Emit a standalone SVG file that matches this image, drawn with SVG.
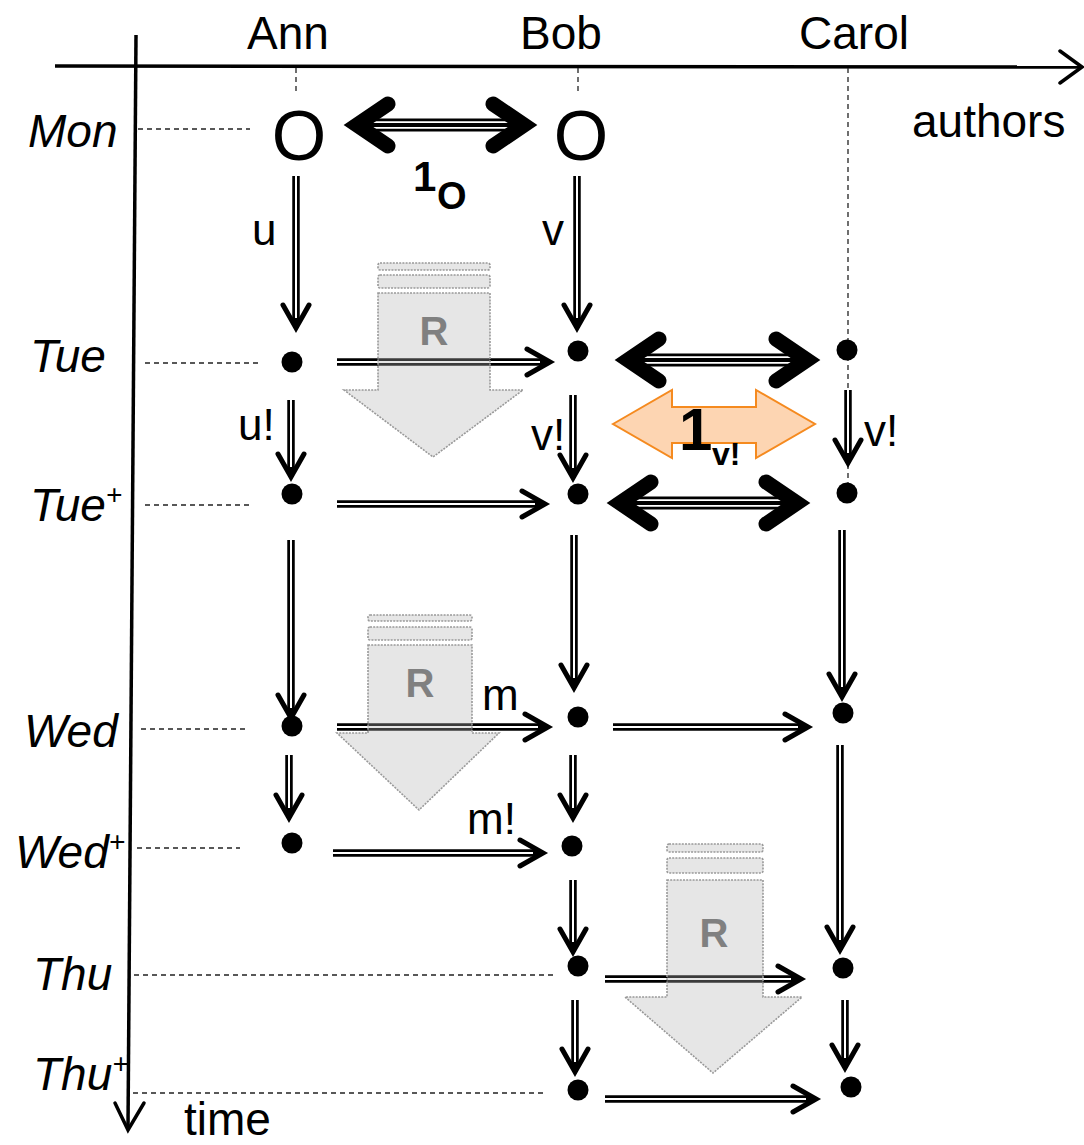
<svg xmlns="http://www.w3.org/2000/svg" width="1084" height="1145" viewBox="0 0 1084 1145">
<style>
text{font-family:"Liberation Sans",Arial,sans-serif;fill:#000}
.ax{stroke:#000;stroke-width:3.5;fill:none}
.axh{stroke:#000;stroke-width:3.5;fill:none;stroke-linecap:round}
.lbl{font-size:46px}
.day{font-size:46px;font-style:italic}
.sm{font-size:44px}
.dash{stroke:#222;stroke-width:1.3;stroke-dasharray:5 4;fill:none}
.dot{fill:#000}
.sh{stroke:#000;stroke-width:7.5;fill:none}
.shw{stroke:#fff;stroke-width:2;fill:none}
.hd{stroke:#000;stroke-width:5;fill:none;stroke-linecap:round;stroke-linejoin:miter}
.bsh{stroke:#000;stroke-width:13;fill:none}
.bshw{stroke:#fff;stroke-width:1.8;fill:none}
.bhd{stroke:#000;stroke-width:15;fill:none;stroke-linecap:round;stroke-linejoin:miter;stroke-miterlimit:10}
.rarr{fill:#b4b4b4;fill-opacity:0.33;stroke:#999;stroke-width:1.6;stroke-dasharray:2 1.2}
.rt{font-size:40px;font-weight:bold;fill:#808080}
</style>

<g id="axes">
<path class="ax" d="M55,66 L1080,67"/>
<path class="axh" d="M1060,51 L1082,67 L1060,83"/>
<path class="ax" d="M136,35 L128,1128"/>
<path class="axh" d="M115,1103 L128,1130 L144,1103"/>
<text class="lbl" x="288" y="49" text-anchor="middle">Ann</text>
<text class="lbl" x="561" y="49" text-anchor="middle">Bob</text>
<text class="lbl" x="854" y="49" text-anchor="middle">Carol</text>
<text class="lbl" x="912" y="137">authors</text>
<text class="lbl" x="184" y="1135">time</text>
</g>

<g id="days">
<text class="day" x="28" y="147">Mon</text>
<text class="day" x="30" y="372">Tue</text>
<text class="day" x="30" y="521">Tue<tspan font-size="28" dy="-17">+</tspan></text>
<text class="day" x="24" y="747">Wed</text>
<text class="day" x="15" y="868">Wed<tspan font-size="28" dy="-17">+</tspan></text>
<text class="day" x="33" y="990">Thu</text>
<text class="day" x="33" y="1090">Thu<tspan font-size="28" dy="-17">+</tspan></text>
</g>

<g id="guides">
<path class="dash" d="M138,129 H250"/>
<path class="dash" d="M145,363 H262"/>
<path class="dash" d="M145,505 H250"/>
<path class="dash" d="M141,729 H247"/>
<path class="dash" d="M137,848 H240"/>
<path class="dash" d="M134,975 H555"/>
<path class="dash" d="M133,1093 H545"/>
<path class="dash" d="M296,68 V92"/>
<path class="dash" d="M578,68 V92"/>
<path class="dash" d="M848,68 V485"/>
</g>

<g id="nodes">
<g id="ann-mon"><text x="299" y="160" font-size="70" text-anchor="middle">O</text></g>
<g id="bob-mon"><text x="581" y="160" font-size="70" text-anchor="middle">O</text></g>
<g id="ann-tue"><circle class="dot" cx="292" cy="362" r="10.5"/></g>
<g id="ann-tueplus"><circle class="dot" cx="292" cy="494" r="10.5"/></g>
<g id="ann-wed"><circle class="dot" cx="292" cy="726" r="10.5"/></g>
<g id="ann-wedplus"><circle class="dot" cx="292" cy="843" r="10.5"/></g>
<g id="bob-tue"><circle class="dot" cx="578" cy="351" r="10.5"/></g>
<g id="bob-tueplus"><circle class="dot" cx="578" cy="494" r="10.5"/></g>
<g id="bob-wed"><circle class="dot" cx="578" cy="717" r="10.5"/></g>
<g id="bob-wedplus"><circle class="dot" cx="572" cy="846" r="10.5"/></g>
<g id="bob-thu"><circle class="dot" cx="578" cy="966" r="10.5"/></g>
<g id="bob-thuplus"><circle class="dot" cx="578" cy="1090" r="10.5"/></g>
<g id="carol-tue"><circle class="dot" cx="847" cy="350" r="10.5"/></g>
<g id="carol-tueplus"><circle class="dot" cx="847" cy="493" r="10.5"/></g>
<g id="carol-wed"><circle class="dot" cx="843" cy="713" r="10.5"/></g>
<g id="carol-thu"><circle class="dot" cx="843" cy="968" r="10.5"/></g>
<g id="carol-thuplus"><circle class="dot" cx="851" cy="1087" r="10.5"/></g>
</g>

<g id="connectors">
<g><path class="sh" d="M296,176 V325"/><path class="shw" d="M296,176 V318"/><path class="hd" d="M283,305 L296,328 L309,305"/></g>
<g><path class="sh" d="M577,176 V325"/><path class="shw" d="M577,176 V318"/><path class="hd" d="M564,305 L577,328 L590,305"/></g>
<g><path class="sh" d="M291,400 V474"/><path class="shw" d="M291,400 V467"/><path class="hd" d="M278,454 L291,477 L304,454"/></g>
<g><path class="sh" d="M573,395 V475"/><path class="shw" d="M573,395 V468"/><path class="hd" d="M560,455 L573,478 L586,455"/></g>
<g><path class="sh" d="M848,390 V460"/><path class="shw" d="M848,390 V453"/><path class="hd" d="M835,440 L848,463 L861,440"/></g>
<g><path class="sh" d="M291,540 V715"/><path class="shw" d="M291,540 V708"/><path class="hd" d="M278,695 L291,718 L304,695"/></g>
<g><path class="sh" d="M574,535 V685"/><path class="shw" d="M574,535 V678"/><path class="hd" d="M561,665 L574,688 L587,665"/></g>
<g><path class="sh" d="M842,530 V694"/><path class="shw" d="M842,530 V687"/><path class="hd" d="M829,674 L842,697 L855,674"/></g>
<g><path class="sh" d="M289,755 V815"/><path class="shw" d="M289,755 V808"/><path class="hd" d="M276,795 L289,818 L302,795"/></g>
<g><path class="sh" d="M573,755 V815"/><path class="shw" d="M573,755 V808"/><path class="hd" d="M560,795 L573,818 L586,795"/></g>
<g><path class="sh" d="M573,880 V949"/><path class="shw" d="M573,880 V942"/><path class="hd" d="M560,929 L573,952 L586,929"/></g>
<g><path class="sh" d="M840,745 V947"/><path class="shw" d="M840,745 V940"/><path class="hd" d="M827,927 L840,950 L853,927"/></g>
<g><path class="sh" d="M575,1000 V1069"/><path class="shw" d="M575,1000 V1062"/><path class="hd" d="M562,1049 L575,1072 L588,1049"/></g>
<g><path class="sh" d="M845,1000 V1065"/><path class="shw" d="M845,1000 V1058"/><path class="hd" d="M832,1045 L845,1068 L858,1045"/></g>
<g><path class="sh" d="M337,362 H547"/><path class="shw" d="M337,362 H540"/><path class="hd" d="M527,349 L550,362 L527,375"/></g>
<g><path class="sh" d="M337,504 H542"/><path class="shw" d="M337,504 H535"/><path class="hd" d="M522,491 L545,504 L522,517"/></g>
<g><path class="sh" d="M337,727 H545"/><path class="shw" d="M337,727 H538"/><path class="hd" d="M525,714 L548,727 L525,740"/></g>
<g><path class="sh" d="M613,727 H805"/><path class="shw" d="M613,727 H798"/><path class="hd" d="M785,714 L808,727 L785,740"/></g>
<g><path class="sh" d="M333,853 H540"/><path class="shw" d="M333,853 H533"/><path class="hd" d="M520,840 L543,853 L520,866"/></g>
<g><path class="sh" d="M605,979 H798"/><path class="shw" d="M605,979 H791"/><path class="hd" d="M778,966 L801,979 L778,992"/></g>
<g><path class="sh" d="M605,1099 H813"/><path class="shw" d="M605,1099 H806"/><path class="hd" d="M793,1086 L816,1099 L793,1112"/></g>
<g><path class="bsh" d="M362,125 H519"/><path class="bshw" d="M372,122.2 H509 M372,127.8 H509"/><path class="bhd" d="M388,104 L357,125 L388,146 M493,104 L524,125 L493,146"/></g>
<g><path class="bsh" d="M633,360 H802"/><path class="bshw" d="M643,357.2 H792 M643,362.8 H792"/><path class="bhd" d="M659,339 L628,360 L659,381 M776,339 L807,360 L776,381"/></g>
<g><path class="bsh" d="M625,503 H792"/><path class="bshw" d="M635,500.2 H782 M635,505.8 H782"/><path class="bhd" d="M651,482 L620,503 L651,524 M766,482 L797,503 L766,524"/></g>
<text class="sm" x="252" y="245">u</text>
<text class="sm" x="542" y="245">v</text>
<text class="sm" x="238" y="440">u!</text>
<text class="sm" x="531" y="450">v!</text>
<text class="sm" x="864" y="446">v!</text>
<text class="sm" x="482" y="710">m</text>
<text class="sm" x="467" y="834">m!</text>
<text x="413" y="191" font-size="42" font-weight="bold">1</text>
<text x="437" y="209" font-size="38" font-weight="bold">O</text>
</g>

<g id="orange-arrow">
<polygon points="613,424 672,390 672,407 756,407 756,390 815,424 756,458 756,443 672,443 672,458" fill="#FDD5B2" stroke="#F58A1F" stroke-width="2" stroke-linejoin="miter"/>
<text x="679" y="450" font-size="60" font-weight="bold">1</text>
<text x="712" y="465" font-size="32" font-weight="bold">v!</text>
</g>

<g id="R1">
<rect class="rarr" x="378" y="263" width="112" height="7" rx="2"/>
<rect class="rarr" x="378" y="275" width="112" height="13" rx="2"/>
<polygon class="rarr" points="378,293 490,293 490,390 523,390 433,457 344,390 378,390"/>
<text class="rt" x="434" y="345" text-anchor="middle">R</text>
</g>
<g id="R2">
<rect class="rarr" x="368" y="615" width="104" height="6" rx="2"/>
<rect class="rarr" x="368" y="627" width="104" height="13" rx="2"/>
<polygon class="rarr" points="368,645 472,645 472,733 499,733 419,810 337,733 368,733"/>
<text class="rt" x="420" y="697" text-anchor="middle">R</text>
</g>
<g id="R3">
<rect class="rarr" x="667" y="844" width="96" height="8" rx="2"/>
<rect class="rarr" x="667" y="858" width="96" height="15" rx="2"/>
<polygon class="rarr" points="667,880 763,880 763,997 802,997 713,1073 625,997 667,997"/>
<text class="rt" x="714" y="947" text-anchor="middle">R</text>
</g>
</svg>
